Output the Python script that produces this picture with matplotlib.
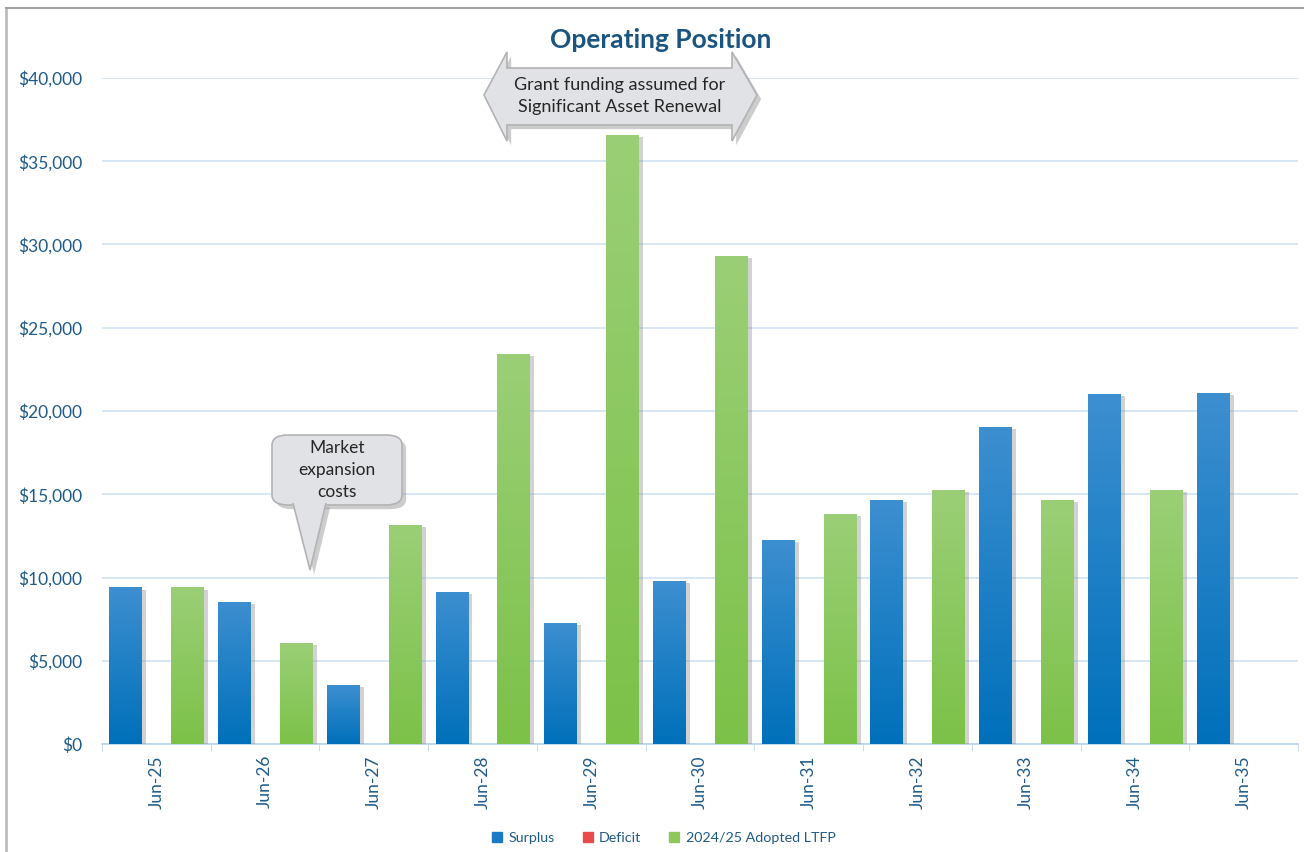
import numpy as np
import matplotlib
matplotlib.use("Agg")
import matplotlib.pyplot as plt
from matplotlib.colors import LinearSegmentedColormap
from matplotlib.patches import Polygon, FancyBboxPatch
from matplotlib.lines import Line2D
import matplotlib.patheffects as pe

plt.rcParams['font.family'] = ['Lato', 'DejaVu Sans']

categories = ["Jun-25", "Jun-26", "Jun-27", "Jun-28", "Jun-29", "Jun-30",
              "Jun-31", "Jun-32", "Jun-33", "Jun-34", "Jun-35"]
surplus = [9400, 8530, 3540, 9130, 7270, 9790, 12250, 14650, 19040, 21020, 21080]
deficit = [0, 0, 0, 0, 0, 0, 0, 0, 0, 0, 0]
ltfp = [9400, 6070, 13150, 23420, 36580, 29310, 13810, 15260, 14650, 15240, 0]
yticks = [0, 5000, 10000, 15000, 20000, 25000, 30000, 35000, 40000]

W, H = 1304, 852
fig = plt.figure(figsize=(W / 100, H / 100), dpi=100)


def fx(px):
    return px / W


def fy(py):
    return 1 - py / H


ax = fig.add_axes([fx(102), fy(744), fx(1298) - fx(102), fy(78) - fy(744)])

TXT = '#1f5b8a'
x = np.arange(len(categories))
bw = 0.295
off = 0.285

shadow = [pe.SimplePatchShadow(offset=(3.5, -1.5), shadow_rgbFace='#8a8a8a', alpha=0.38),
          pe.Normal()]

b1 = ax.bar(x - off, surplus, bw, color='#1a7bc4', zorder=3, path_effects=shadow)
b2 = ax.bar(x, deficit, bw, color='#e84b4b', zorder=3)
b3 = ax.bar(x + off, ltfp, bw, color='#8cc85c', zorder=3, path_effects=shadow)


def gradient(bars, c_top, c_bot):
    cmap = LinearSegmentedColormap.from_list('g', [c_bot, c_top])
    grad = np.linspace(1, 0, 256).reshape(-1, 1)
    for b in bars:
        h = b.get_height()
        if h <= 0:
            continue
        x0 = b.get_x()
        w = b.get_width()
        im = ax.imshow(grad, extent=[x0, x0 + w, 0, h], aspect='auto', cmap=cmap,
                       origin='upper', zorder=3.5, interpolation='bilinear')
        im.set_clip_path(b)


gradient(b1, '#3d8fd0', '#0070ba')
gradient(b3, '#9bcf77', '#7cc148')

ax.set_xlim(-0.5, len(categories) - 0.5)
ax.set_ylim(0, 40000)
ax.set_yticks(yticks)
ax.set_yticklabels([f"${v:,.0f}" for v in yticks], fontsize=12.5, color=TXT)
ax.set_xticks(x)
ax.set_xticklabels(categories, rotation=90, fontsize=12.5, color=TXT)
ax.set_xticks(np.arange(-0.5, len(categories)), minor=True)
ax.tick_params(axis='x', which='major', length=0, pad=8)
ax.tick_params(axis='x', which='minor', length=5, color='#bcd6ee', direction='out')
ax.tick_params(axis='y', length=0, pad=14)
ax.grid(axis='y', color='#cfe3f4', linewidth=1.2, zorder=0)
ax.set_axisbelow(True)
for s in ['top', 'right', 'left']:
    ax.spines[s].set_visible(False)
ax.spines['bottom'].set_color('#bcd6ee')
ax.spines['bottom'].set_linewidth(1.3)

# Title
fig.text(fx(661), fy(40), "Operating Position", ha='center', va='center',
         fontsize=19, fontweight='bold', color='#1a5582')

callout_shadow = [pe.SimplePatchShadow(offset=(3, -3), shadow_rgbFace='#9a9a9a', alpha=0.5),
                  pe.Normal()]

# Double arrow callout
arrow_pts = [(484, 95), (507, 52), (507, 68), (732, 68), (732, 52), (757, 95),
             (732, 141), (732, 125), (507, 125), (507, 141)]
arr = Polygon([(fx(a), fy(b)) for a, b in arrow_pts], closed=True, transform=fig.transFigure,
              facecolor='#e1e2e5', edgecolor='#b3b3b6', linewidth=1.2, zorder=10,
              path_effects=callout_shadow)
fig.patches.append(arr)
fig.text(fx(620), fy(96), "Grant funding assumed for\nSignificant Asset Renewal", ha='center',
         va='center', fontsize=13, color='#262626', linespacing=1.45, zorder=11)

# Speech callout
box = FancyBboxPatch((fx(272), fy(505)), fx(402) - fx(272), fy(435) - fy(505),
                     boxstyle="round,pad=0,rounding_size=0.012", transform=fig.transFigure,
                     facecolor='#e1e2e5', edgecolor='#b3b3b6', linewidth=1.2, zorder=10,
                     path_effects=callout_shadow)
fig.patches.append(box)
ptr_pts = [(293, 503), (310, 570), (326, 503)]
ptr = Polygon([(fx(a), fy(b)) for a, b in ptr_pts], closed=False, transform=fig.transFigure,
              facecolor='#e1e2e5', edgecolor='#b3b3b6', linewidth=1.2, zorder=10.5,
              path_effects=callout_shadow)
fig.patches.append(ptr)
fig.text(fx(337), fy(470), "Market\nexpansion\ncosts", ha='center', va='center',
         fontsize=12.5, color='#262626', linespacing=1.45, zorder=11)

# Legend
handles = [Line2D([], [], marker='s', linestyle='none', markersize=7, color='#1a7bc4'),
           Line2D([], [], marker='s', linestyle='none', markersize=7, color='#e84b4b'),
           Line2D([], [], marker='s', linestyle='none', markersize=7, color='#8cc85c')]
leg = fig.legend(handles, ["Surplus", "Deficit", "2024/25 Adopted LTFP"], loc='center',
                 bbox_to_anchor=(fx(662), fy(838)), ncol=3, frameon=False, fontsize=10.3,
                 handletextpad=0.2, columnspacing=1.7, handlelength=1.2)
for t in leg.get_texts():
    t.set_color(TXT)

# Outer frame
fig.add_artist(Line2D([fx(6), fx(6)], [0, fy(8)], transform=fig.transFigure, color='#bdbdc2', linewidth=2))
fig.add_artist(Line2D([fx(6), 1], [fy(8), fy(8)], transform=fig.transFigure, color='#a0a0a0', linewidth=1.5))

fig.savefig("out.png", dpi=100)
